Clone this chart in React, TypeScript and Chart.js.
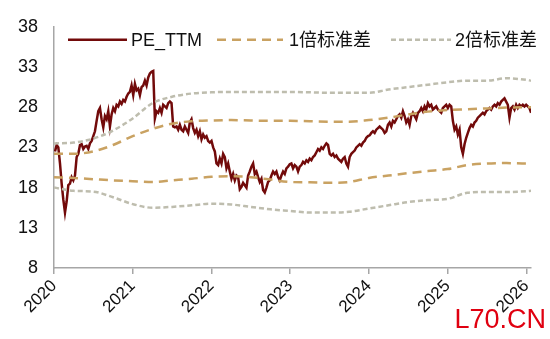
import React, { useEffect, useRef } from 'react';
import { Chart, registerables } from 'chart.js';

Chart.register(...registerables);

// ---- data ----
const xTickYears = [2020, 2021, 2022, 2023, 2024, 2025, 2026];
const yMin = 8;
const yMax = 38;
const yStep = 5;

// PE_TTM, sampled roughly weekly starting early Jan 2020
const peStartYear = 2020.0127;
const peStepYears = 0.02115;
const peValues = [
  22.5, 23.3, 23.0, 21.0, 18.5, 16.5, 14.9, 16.3, 18.3, 18.5,
  19.3, 18.9, 19.5, 21.8, 22.2, 23.3, 23.4, 22.8, 23.1, 23.2,
  22.8, 23.5, 23.8, 24.4, 25.0, 26.3, 27.5, 27.9, 26.5, 25.5,
  26.9, 26.5, 27.5, 25.6, 27.1, 27.9, 27.5, 28.3, 28.1, 28.7,
  28.4, 28.9, 28.7, 29.3, 29.7, 29.9, 30.7, 29.5, 30.9, 30.1,
  30.3, 29.5, 30.5, 30.7, 31.3, 30.7, 31.7, 32.2, 32.4, 32.5,
  26.6, 27.5, 27.3, 27.9, 27.3, 28.3, 28.1, 27.9, 28.5, 28.7,
  28.5, 25.6, 25.5, 25.6, 25.2, 25.8, 25.2, 25.0, 25.6, 25.2,
  24.8, 26.1, 26.5, 25.4, 24.8, 25.2, 24.4, 25.0, 24.0, 24.6,
  24.2, 24.4, 23.8, 23.6, 23.8, 23.0, 22.5, 21.0, 20.8, 21.6,
  21.0, 22.2, 21.8, 20.4, 21.0, 20.0, 19.1, 19.7, 18.9, 19.5,
  19.3, 17.8, 18.1, 18.6, 18.3, 18.0, 19.5, 20.0, 20.6, 21.0,
  19.7, 20.0, 19.3, 18.7, 19.1, 17.7, 17.4, 18.0, 18.7, 18.9,
  19.5, 20.0, 19.7, 20.0, 19.3, 18.9, 19.5, 20.0, 19.7, 20.4,
  20.6, 20.9, 21.0, 20.4, 20.8, 20.6, 20.0, 20.6, 20.8, 21.2,
  21.0, 21.4, 21.2, 21.6, 21.4, 21.8, 22.0, 22.4, 22.8, 22.6,
  23.0, 22.8, 23.2, 23.5, 23.3, 22.2, 22.0, 22.2, 21.8, 22.0,
  21.6, 21.4, 21.2, 21.6, 21.8, 21.0, 20.6, 21.8, 22.2, 22.4,
  22.6, 23.0, 23.2, 23.4, 23.2, 23.6, 23.8, 24.2, 24.4, 24.5,
  24.8, 25.0, 24.8, 25.2, 25.4, 25.6, 25.4, 25.2, 24.8, 25.0,
  25.8, 26.1, 25.6, 26.3, 26.1, 26.5, 26.9, 27.1, 26.7, 27.5,
  26.9, 26.1, 26.5, 25.8, 26.9, 27.3, 26.9, 26.5, 27.3, 27.5,
  27.9, 27.5, 28.1, 27.7, 28.5, 28.1, 28.3, 27.7, 27.9, 28.1,
  27.7, 27.5, 27.3, 27.9, 28.1, 28.3, 27.9, 28.3, 28.1, 26.3,
  25.2, 25.6, 24.6, 25.2, 23.0, 22.2, 23.4, 24.2, 24.8, 25.4,
  25.8, 25.6, 26.1, 26.3, 26.7, 26.9, 27.1, 27.3, 27.1, 27.5,
  27.7, 27.9, 27.7, 28.1, 28.3, 28.1, 28.5, 28.3, 28.7, 28.9,
  29.1, 28.7, 28.3, 26.7, 27.9, 28.1, 27.7, 28.3, 27.9, 28.3,
  28.1, 28.3, 28.1, 28.3, 28.1, 27.9, 27.3,
];

// rolling bands, read quarterly
const bandYears = [
  2020.0, 2020.25, 2020.5, 2020.75, 2021.0, 2021.25, 2021.5, 2021.75,
  2022.0, 2022.25, 2022.5, 2022.75, 2023.0, 2023.25, 2023.5, 2023.75,
  2024.0, 2024.25, 2024.5, 2024.75, 2025.0, 2025.25, 2025.5, 2025.75,
  2026.0, 2026.06,
];
const upper2Sd = [
  23.5, 23.6, 24.1, 25.1, 26.6, 28.5, 29.3, 29.7,
  29.85, 29.9, 29.9, 29.9, 29.9, 29.85, 29.8, 29.8,
  29.8, 30.2, 30.5, 30.8, 31.1, 31.3, 31.3, 31.6,
  31.4, 31.3,
];
const upper1Sd = [
  22.2, 22.2, 22.5, 23.3, 24.4, 25.3, 25.95, 26.25,
  26.35, 26.4, 26.35, 26.3, 26.3, 26.25, 26.2, 26.2,
  26.4, 26.7, 27.1, 27.45, 27.65, 27.75, 27.85, 27.95,
  28.0, 28.0,
];
const lower1Sd = [
  19.3, 19.2, 19.05, 18.9, 18.8, 18.7, 18.9, 19.1,
  19.35, 19.4, 19.3, 19.0, 18.7, 18.65, 18.6, 18.7,
  19.2, 19.5, 19.8, 20.05, 20.3, 20.8, 21.0, 21.05,
  21.0, 21.0,
];
const lower2Sd = [
  18.0, 17.6, 17.5, 16.8, 15.95, 15.5, 15.6, 15.8,
  16.0, 15.9, 15.6, 15.3, 15.1, 14.9, 14.9, 15.0,
  15.4, 15.8, 16.2, 16.45, 16.6, 17.35, 17.45, 17.45,
  17.55, 17.6,
];

const seriesNames = ['PE_TTM', '1倍标准差', '2倍标准差'];
const watermarkText = 'L70.CN';

// ---- styles ----
const PE_COLOR = '#720A0A';
const SD1_COLOR = '#C9A262';
const SD2_COLOR = '#BEBDAE';
const AXIS_COLOR = '#A6A6A6';
const FONT_FAMILY = '"Liberation Sans", Arial, "Noto Sans CJK SC", sans-serif';
const SD1_DASH = [9, 6];
const SD2_DASH = [5, 3];

const toPoints = (xs: number[], ys: number[]) => ys.map((y, i) => ({ x: xs[i], y }));

const overlayPlugin = {
  id: 'overlay',
  afterDraw(chart: any) {
    const ctx = chart.ctx as CanvasRenderingContext2D;
    const area = chart.chartArea;
    ctx.save();
    const ly = area.top + 13;
    const items = [
      { x1: area.left + 14, x2: area.left + 73, tx: area.left + 77, color: PE_COLOR, dash: [] as number[], w: 2.5, text: seriesNames[0] },
      { x1: area.left + 163, x2: area.left + 229, tx: area.left + 235, color: SD1_COLOR, dash: SD1_DASH, w: 2.5, text: seriesNames[1] },
      { x1: area.left + 337, x2: area.left + 397, tx: area.left + 401, color: SD2_COLOR, dash: SD2_DASH, w: 2.5, text: seriesNames[2] },
    ];
    ctx.font = `18px ${FONT_FAMILY}`;
    ctx.textBaseline = 'middle';
    ctx.textAlign = 'left';
    for (const it of items) {
      ctx.beginPath();
      ctx.setLineDash(it.dash);
      ctx.lineWidth = it.w;
      ctx.strokeStyle = it.color;
      ctx.moveTo(it.x1, ly);
      ctx.lineTo(it.x2, ly);
      ctx.stroke();
      ctx.setLineDash([]);
      ctx.fillStyle = '#111';
      ctx.fillText(it.text, it.tx, ly + 1);
    }
    // watermark
    ctx.font = `27px ${FONT_FAMILY}`;
    ctx.fillStyle = '#E00010';
    ctx.textBaseline = 'alphabetic';
    ctx.textAlign = 'right';
    ctx.fillText(watermarkText, chart.width - 4, chart.height - 11);
    ctx.restore();
  },
};

export default function App() {
  const canvasRef = useRef<HTMLCanvasElement | null>(null);

  useEffect(() => {
    document.body.style.margin = '0';
    const canvas = canvasRef.current;
    if (!canvas) return;
    const peData = peValues.map((v, i) => ({ x: peStartYear + i * peStepYears, y: v }));
    const lastX = bandYears[bandYears.length - 1];

    const chart = new Chart(canvas, {
      type: 'line',
      data: {
        datasets: [
          {
            label: seriesNames[0],
            data: peData,
            borderColor: PE_COLOR,
            borderWidth: 2.5,
            pointRadius: 0,
            tension: 0,
            order: 2,
          },
          {
            label: seriesNames[1],
            data: toPoints(bandYears, upper1Sd),
            borderColor: SD1_COLOR,
            borderWidth: 2.5,
            borderDash: SD1_DASH,
            pointRadius: 0,
            cubicInterpolationMode: 'monotone',
            order: 1,
          },
          {
            label: seriesNames[1] + ' ',
            data: toPoints(bandYears, lower1Sd),
            borderColor: SD1_COLOR,
            borderWidth: 2.5,
            borderDash: SD1_DASH,
            pointRadius: 0,
            cubicInterpolationMode: 'monotone',
            order: 1,
          },
          {
            label: seriesNames[2],
            data: toPoints(bandYears, upper2Sd),
            borderColor: SD2_COLOR,
            borderWidth: 2.5,
            borderDash: SD2_DASH,
            pointRadius: 0,
            cubicInterpolationMode: 'monotone',
            order: 1,
          },
          {
            label: seriesNames[2] + ' ',
            data: toPoints(bandYears, lower2Sd),
            borderColor: SD2_COLOR,
            borderWidth: 2.5,
            borderDash: SD2_DASH,
            pointRadius: 0,
            cubicInterpolationMode: 'monotone',
            order: 1,
          },
        ],
      },
      options: {
        animation: false,
        responsive: false,
        maintainAspectRatio: false,
        layout: { padding: { top: 22, right: 19, left: 0, bottom: 0 } },
        plugins: {
          legend: { display: false },
          tooltip: { enabled: false },
        },
        scales: {
          x: {
            type: 'linear',
            min: 2020,
            max: lastX,
            afterFit: (scale: any) => { scale.height = 71; },
            afterBuildTicks: (scale: any) => {
              scale.ticks = xTickYears.map((v) => ({ value: v }));
            },
            ticks: {
              autoSkip: false,
              minRotation: 45,
              maxRotation: 45,
              padding: 2,
              color: '#111',
              font: { family: FONT_FAMILY, size: 17 },
              callback: (v: any) => String(v),
            },
            grid: {
              display: true,
              drawOnChartArea: false,
              drawTicks: true,
              tickLength: 6,
              color: AXIS_COLOR,
              lineWidth: 1.5,
            },
            border: { display: true, color: AXIS_COLOR, width: 1.5 },
          },
          y: {
            type: 'linear',
            min: yMin,
            max: yMax,
            afterFit: (scale: any) => { scale.width = 54; },
            ticks: {
              stepSize: yStep,
              padding: 16,
              color: '#111',
              font: { family: FONT_FAMILY, size: 18 },
              callback: (v: any) => String(v),
            },
            grid: {
              display: true,
              drawOnChartArea: false,
              drawTicks: false,
              color: AXIS_COLOR,
            },
            border: { display: true, color: AXIS_COLOR, width: 1.5 },
          },
        },
      },
      plugins: [overlayPlugin],
    });
    return () => chart.destroy();
  }, []);

  return (
    <div style={{ width: 550, height: 339, position: 'relative' }}>
      <canvas ref={canvasRef} width={550} height={339} />
    </div>
  );
}
